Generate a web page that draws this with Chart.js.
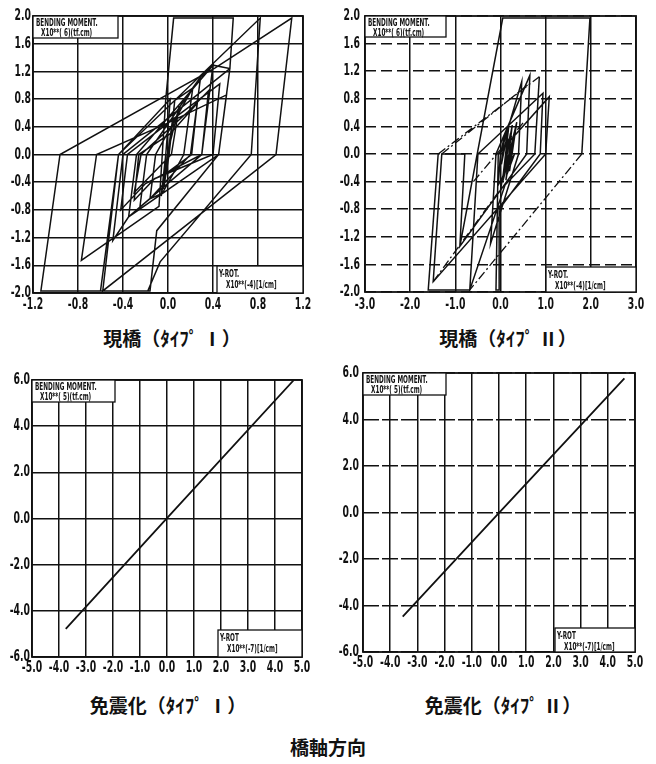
<!DOCTYPE html>
<html>
<head>
<meta charset="utf-8">
<script src="https://cdn.jsdelivr.net/npm/chart.js@4.4.1/dist/chart.umd.min.js"></script>
<style>
  html, body { margin: 0; padding: 0; background: #fff; }
  #page { position: relative; width: 656px; height: 764px; overflow: hidden; background: #fff; }
  canvas { position: absolute; }
  .cap { position: absolute; text-align: center; color: #111;
         font-family: "Noto Sans CJK JP", "Noto Sans CJK SC", sans-serif; font-weight: 700; white-space: nowrap; }
</style>
</head>
<body>
<div id="page">
  <canvas id="cTL"></canvas>
  <canvas id="cTR"></canvas>
  <canvas id="cBL"></canvas>
  <canvas id="cBR"></canvas>
  <div class="cap" id="capTL"></div>
  <div class="cap" id="capTR"></div>
  <div class="cap" id="capBL"></div>
  <div class="cap" id="capBR"></div>
  <div class="cap" id="capMain"></div>
</div>
<script>
// ---- captions ----
const captions = ["現橋（ﾀｲﾌﾟ Ⅰ）", "現橋（ﾀｲﾌﾟ Ⅱ）", "免震化（ﾀｲﾌﾟ Ⅰ）", "免震化（ﾀｲﾌﾟ Ⅱ）", "橋軸方向"];

// ---- axis ticks ----
const xTicksTypeI   = [-1.2, -0.8, -0.4, 0.0, 0.4, 0.8, 1.2];
const xTicksTypeII  = [-3.0, -2.0, -1.0, 0.0, 1.0, 2.0, 3.0];
const yTicksBridge  = [-2.0, -1.6, -1.2, -0.8, -0.4, 0.0, 0.4, 0.8, 1.2, 1.6, 2.0];
const xTicksIsolated = [-5.0, -4.0, -3.0, -2.0, -1.0, 0.0, 1.0, 2.0, 3.0, 4.0, 5.0];
const yTicksIsolated = [-6.0, -4.0, -2.0, 0.0, 2.0, 4.0, 6.0];

// ---- moment–rotation paths (x: Y-ROT, y: bending moment) ----
// existing bridge, type I
const momentRotTypeI = [
  [0.00, 0.00], [0.05, 0.62], [0.00, 0.02], [-0.04, -0.50], [0.01, 0.00], [0.06, 0.78],
  [0.22, 0.96], [0.14, 0.00], [-0.05, -0.56], [-0.16, -0.64],
  [-0.11, 0.00], [0.22, 0.96], [0.29, 1.12],
  [0.20, 0.00], [-0.16, -0.64], [-0.25, -0.76],
  [-0.19, 0.00], [0.29, 1.12], [0.40, 1.29],
  [0.30, 0.00], [-0.25, -0.76], [-0.35, -0.90],
  [-0.28, 0.00], [0.40, 1.29], [0.55, 1.24],
  [0.45, 0.00], [-0.35, -0.90], [-0.49, -1.24],
  [-0.40, 0.00], [0.55, 1.24], [0.58, 1.97],
  [0.05, 1.97], [-0.02, 0.80], [-0.08, -0.75],
  [-0.77, -1.53], [-0.635, 0.00], [-0.01, 0.45], [0.52, 0.86],
  [0.45, 0.00], [-0.10, -1.10], [-0.16, -1.97], [-0.60, -1.97],
  [-0.44, 0.00], [0.82, 1.97], [0.74, 0.00], [-0.07, -1.55], [-0.18, -1.97],
  [-1.13, -1.97], [-0.96, 0.00], [0.42, 1.25], [1.10, 1.97],
  [0.96, 0.00], [-0.58, -1.97], [-0.44, 0.00], [0.02, 0.80],
  [-0.02, 0.00], [-0.06, -0.60], [0.00, 0.05],
  [0.10, 0.70], [0.03, 0.00], [-0.30, -0.55], [-0.24, 0.00], [0.18, 0.62],
  [0.36, 0.92], [0.30, 0.00], [-0.20, -0.42], [-0.42, -0.80], [-0.36, 0.00],
  [0.10, 0.58], [0.46, 1.02], [0.40, 0.00], [-0.12, -0.35], [-0.30, -0.66],
  [-0.26, 0.00], [0.02, 0.30], [0.26, 0.74], [0.21, 0.00], [-0.04, -0.30]
];

// existing bridge, type II (solid runs)
const momentRotTypeII = [
  [0.00, 0.00], [0.10, 0.30], [0.02, -0.15], [0.18, 0.38], [0.06, -0.30], [0.26, 0.42],
  [0.12, -0.38], [0.30, 0.30], [0.16, -0.10], [0.36, 0.46], [0.20, -0.25], [0.28, 0.20],
  [0.14, -0.30], [0.31, 0.00], [-0.05, -0.45], [0.00, 0.00], [0.47, 1.05],
  [0.40, 0.00], [-0.22, -1.30], [-0.10, 0.00], [0.65, 1.14],
  [0.58, 0.00], [-0.90, -1.34], [0.05, 1.97], [1.98, 1.97], [1.80, 0.00], null,
  [-0.68, -1.97], [-1.60, -1.97], [-1.38, 0.00], null,
  [0.86, 1.12], [0.76, 0.00], [0.10, -0.45], [-0.68, -1.97], [-0.50, 0.00],
  [0.94, 0.88], [0.88, 0.00], [-0.03, -0.80], [-0.03, -1.97], [-0.10, -1.97],
  [-0.05, 0.00], [1.08, 0.83], [1.00, 0.00], [-1.49, -1.85], [-1.30, 0.00],
  [-0.79, 0.00], [-0.90, -1.34], null,
  [0.00, -0.52], [0.22, 0.30], [0.10, -0.20], [0.25, 0.10], [0.05, -0.40],
  [0.18, 0.22], [0.08, -0.28], [0.22, 0.05], [0.12, -0.12]
];

// existing bridge, type II (dash-dot runs)
const momentRotTypeIIDash = [
  [1.80, 0.00], [-0.68, -1.97], null,
  [-1.38, 0.00], [0.86, 1.12], null,
  [-1.30, 0.00], [0.60, 1.00], null,
  [-1.49, -1.85], [-0.01, -0.52], null,
  [-0.60, -0.40], [0.50, 0.45]
];

// seismically isolated, type I / type II
const momentRotIsoI  = [[-3.75, -4.78], [0.00, 0.02], [4.70, 6.00]];
const momentRotIsoII = [[-3.54, -4.48], [0.00, -0.02], [4.61, 5.77]];

// ---- drawing helpers ----
const INK = '#111';
const toPoints = arr => arr.map(p => p ? { x: p[0], y: p[1] } : { x: NaN, y: NaN });

function squeezed(ctx, text, x, y, align, sx) {
  ctx.save();
  ctx.translate(x, y);
  ctx.scale(sx, 1);
  ctx.textAlign = align;
  ctx.fillText(text, 0, 0);
  ctx.restore();
}

const plotterDecor = {
  id: 'plotterDecor',
  afterDraw(chart, args, o) {
    const ctx = chart.ctx;
    const a = chart.chartArea;
    const xs = chart.scales.x, ys = chart.scales.y;
    ctx.save();
    // frame
    ctx.strokeStyle = INK;
    ctx.lineWidth = 1.8;
    ctx.strokeRect(a.left, a.top, a.right - a.left, a.bottom - a.top);
    // tick labels
    ctx.fillStyle = INK;
    ctx.font = 'bold 16px "DejaVu Sans"';
    ctx.textBaseline = 'middle';
    o.xTicks.forEach(v => squeezed(ctx, v.toFixed(1), xs.getPixelForValue(v), o.xLabelY, 'center', 0.58));
    o.yTicks.forEach(v => squeezed(ctx, v.toFixed(1), o.yLabelRight, ys.getPixelForValue(v), 'right', 0.58));
    // unit boxes
    ctx.lineWidth = 1.3;
    ctx.fillStyle = '#fff';
    const tw = o.topBox[0], th = o.topBox[1];
    ctx.fillRect(a.left, a.top, tw, th);
    ctx.strokeRect(a.left, a.top, tw, th);
    const bw = o.botBox[0], bh = o.botBox[1];
    ctx.fillRect(a.right - bw, a.bottom - bh, bw, bh);
    ctx.strokeRect(a.right - bw, a.bottom - bh, bw, bh);
    ctx.fillStyle = INK;
    ctx.font = 'bold 11px "DejaVu Sans"';
    ctx.textBaseline = 'alphabetic';
    squeezed(ctx, o.momentText[0], a.left + 3, a.top + 10, 'left', 0.52);
    squeezed(ctx, o.momentText[1], a.left + 8, a.top + 20, 'left', 0.52);
    squeezed(ctx, o.rotText[0], a.right - bw + 2, a.bottom - bh + 11, 'left', 0.52);
    squeezed(ctx, o.rotText[1], a.right - bw + 9, a.bottom - bh + 22, 'left', 0.52);
    ctx.restore();
  }
};

function makePanel(id, box, area, xTicks, yTicks, datasets, deco, yDash) {
  const cv = document.getElementById(id);
  cv.width = box.w; cv.height = box.h;
  cv.style.left = box.x + 'px'; cv.style.top = box.y + 'px';
  cv.style.width = box.w + 'px'; cv.style.height = box.h + 'px';
  const axis = (ticks, dash, size, horiz) => ({
    type: 'linear',
    min: ticks[0], max: ticks[ticks.length - 1],
    afterBuildTicks: s => { s.ticks = ticks.map(v => ({ value: v })); },
    afterFit: s => { if (horiz) s.height = size; else s.width = size; },
    ticks: { display: false },
    grid: { color: INK, lineWidth: 1.5, drawTicks: false },
    border: { display: false, dash: dash || [] }
  });
  deco.xLabelY = deco.xLabelY - box.y;
  deco.yLabelRight = deco.yLabelRight - box.x;
  return new Chart(cv, {
    type: 'scatter',
    data: { datasets },
    options: {
      responsive: false,
      animation: false,
      devicePixelRatio: 1,
      layout: { padding: { left: 0, top: area.t - box.y, right: box.x + box.w - area.r, bottom: 0 } },
      scales: {
        x: axis(xTicks, null, box.y + box.h - area.b, true),
        y: axis(yTicks, yDash, area.l - box.x, false)
      },
      plugins: { legend: { display: false }, tooltip: { enabled: false }, plotterDecor: deco },
      elements: { point: { radius: 0 }, line: { tension: 0 } }
    },
    plugins: [plotterDecor]
  });
}

const lineDs = (arr, width, dash) => ({
  data: toPoints(arr), showLine: true, spanGaps: false,
  borderColor: INK, borderWidth: width, borderDash: dash || [], pointRadius: 0, fill: false
});

const bendTop = ['BENDING MOMENT.', 'X10**( 6)(tf.cm)'];
const bendIso = ['BENDING MOMENT.', 'X10**( 5)(tf.cm)'];
const rotTop = ['Y-ROT.', 'X10**(-4)[1/cm]'];
const rotIso = ['Y-ROT', 'X10**(-7)[1/cm]'];

makePanel('cTL', { x: 0, y: 0, w: 322, h: 318 }, { l: 33, t: 16, r: 303, b: 293 },
  xTicksTypeI, yTicksBridge, [lineDs(momentRotTypeI, 1.5)],
  { xTicks: xTicksTypeI, yTicks: yTicksBridge, xLabelY: 305, yLabelRight: 31,
    topBox: [85, 22], botBox: [86, 27], momentText: bendTop, rotText: rotTop });

makePanel('cTR', { x: 330, y: 0, w: 322, h: 318 }, { l: 365, t: 16, r: 636, b: 292 },
  xTicksTypeII, yTicksBridge,
  [lineDs(momentRotTypeII, 1.5), lineDs(momentRotTypeIIDash, 1.3, [9, 3, 2, 3])],
  { xTicks: xTicksTypeII, yTicks: yTicksBridge, xLabelY: 305, yLabelRight: 360,
    topBox: [81, 21], botBox: [90, 25], momentText: bendTop, rotText: rotTop },
  [11, 5]);

makePanel('cBL', { x: 0, y: 360, w: 322, h: 320 }, { l: 32, t: 380, r: 302, b: 657 },
  xTicksIsolated, yTicksIsolated, [lineDs(momentRotIsoI, 1.8)],
  { xTicks: xTicksIsolated, yTicks: yTicksIsolated, xLabelY: 668, yLabelRight: 30,
    topBox: [83, 22], botBox: [84, 27], momentText: bendIso, rotText: rotIso });

makePanel('cBR', { x: 330, y: 355, w: 322, h: 320 }, { l: 363, t: 373, r: 635, b: 652 },
  xTicksIsolated, yTicksIsolated, [lineDs(momentRotIsoII, 1.8)],
  { xTicks: xTicksIsolated, yTicks: yTicksIsolated, xLabelY: 663, yLabelRight: 359,
    topBox: [83, 22], botBox: [80, 24], momentText: bendIso, rotText: rotIso },
  [16, 3]);

// caption placement
function placeCap(id, text, cx, cy, size) {
  const d = document.getElementById(id);
  d.textContent = text;
  d.style.fontSize = size + 'px';
  d.style.width = '300px';
  d.style.left = (cx - 150) + 'px';
  d.style.top = (cy - size * 0.72) + 'px';
}
placeCap('capTL', captions[0], 172, 338, 19);
placeCap('capTR', captions[1], 508, 338, 19);
placeCap('capBL', captions[2], 168, 705, 19);
placeCap('capBR', captions[3], 503, 705, 19);
placeCap('capMain', captions[4], 328, 747, 19);
</script>
</body>
</html>
